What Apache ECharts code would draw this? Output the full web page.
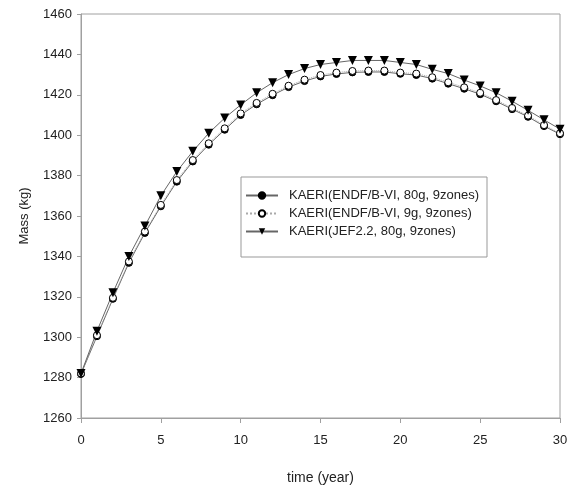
<!DOCTYPE html>
<html>
<head>
<meta charset="utf-8">
<script src="https://cdn.jsdelivr.net/npm/echarts@6/dist/echarts.min.js"></script>
<style>
  html, body { margin: 0; padding: 0; background: #fff; }
  #chart { width: 580px; height: 491px; }
</style>
</head>
<body>
<div id="chart"></div>
<script>
// Fuel mass over time for three library / group-structure cases
const years = [0, 1, 2, 3, 4, 5, 6, 7, 8, 9, 10, 11, 12, 13, 14, 15, 16, 17, 18, 19, 20,
               21, 22, 23, 24, 25, 26, 27, 28, 29, 30];

const endf80g = [1281.8, 1300.5, 1319.0, 1336.8, 1351.6, 1364.8, 1377.0, 1387.0, 1395.3, 1402.7,
                 1410.0, 1415.3, 1419.8, 1423.8, 1426.8, 1429.1, 1430.3, 1431.1, 1431.3, 1431.3,
                 1430.4, 1429.8, 1428.0, 1425.5, 1423.0, 1420.3, 1416.8, 1412.9, 1409.1, 1404.5, 1400.5];

const endf9g = [1282.0, 1301.0, 1319.5, 1337.5, 1352.3, 1365.5, 1377.8, 1387.7, 1396.0, 1403.4,
                1410.8, 1416.0, 1420.5, 1424.5, 1427.5, 1429.8, 1431.0, 1431.8, 1432.0, 1432.0,
                1431.0, 1430.5, 1428.7, 1426.2, 1423.7, 1421.0, 1417.4, 1413.5, 1409.7, 1405.0, 1401.0];

const jef80g = [1282.0, 1303.0, 1322.0, 1340.0, 1355.0, 1370.0, 1382.0, 1392.0, 1401.0, 1408.5,
                1415.0, 1421.0, 1426.0, 1430.0, 1433.0, 1435.0, 1436.0, 1437.0, 1437.0, 1437.0,
                1436.0, 1435.0, 1432.6, 1430.5, 1427.3, 1424.4, 1421.0, 1416.8, 1412.3, 1407.6, 1403.0];

const seriesNames = [
  'KAERI(ENDF/B-VI, 80g, 9zones)',
  'KAERI(ENDF/B-VI, 9g, 9zones)',
  'KAERI(JEF2.2, 80g, 9zones)'
];

const xTicks = { min: 0, max: 30, interval: 5 };
const yTicks = { min: 1260, max: 1460, interval: 20 };

const pairs = (ys) => years.map((x, i) => [x, ys[i]]);

const font = 'Liberation Sans, Arial, sans-serif';
const axisGrey = '#a0a0a0';
const textCol = '#222';

const chart = echarts.init(document.getElementById('chart'), null, { renderer: 'canvas' });

chart.setOption({
  animation: false,
  backgroundColor: '#fff',
  textStyle: { fontFamily: font },
  grid: {
    left: 81, right: 20, top: 14, bottom: 73,
    show: true, borderColor: axisGrey, borderWidth: 1, backgroundColor: 'transparent'
  },
  legend: {
    orient: 'vertical',
    left: 241, top: 177,
    borderColor: '#999', borderWidth: 1,
    padding: [12, 8, 19, 4],
    itemGap: 5,
    itemWidth: 32, itemHeight: 8,
    textStyle: { fontFamily: font, fontSize: 13, color: textCol, padding: [0, 0, 0, 6] },
    data: seriesNames
  },
  xAxis: {
    type: 'value',
    min: xTicks.min, max: xTicks.max, interval: xTicks.interval,
    name: 'time (year)',
    nameLocation: 'middle', nameGap: 53,
    nameTextStyle: { fontFamily: font, fontSize: 14, color: textCol },
    axisLine: { lineStyle: { color: axisGrey, width: 1 } },
    axisTick: { show: true, length: 5, lineStyle: { color: axisGrey } },
    axisLabel: { fontFamily: font, fontSize: 13, color: textCol, margin: 16 },
    splitLine: { show: false }
  },
  yAxis: {
    type: 'value',
    min: yTicks.min, max: yTicks.max, interval: yTicks.interval,
    name: 'Mass (kg)',
    nameLocation: 'middle', nameGap: 50, nameRotate: 90,
    nameTextStyle: { fontFamily: 'Liberation Sans Narrow, ' + font, fontSize: 13, color: textCol },
    axisLine: { show: true, lineStyle: { color: axisGrey, width: 1 } },
    axisTick: { show: true, length: 4, lineStyle: { color: axisGrey } },
    axisLabel: { fontFamily: font, fontSize: 13, color: textCol, margin: 9, formatter: (v) => String(v) },
    splitLine: { show: false }
  },
  series: [
    {
      name: seriesNames[0],
      type: 'line',
      data: pairs(endf80g),
      symbol: 'circle', symbolSize: 7,
      itemStyle: { color: '#000', borderColor: '#000', borderWidth: 1 },
      lineStyle: { color: '#666', width: 1, type: 'solid' }
    },
    {
      name: seriesNames[1],
      type: 'line',
      data: pairs(endf9g),
      symbol: 'circle', symbolSize: 7,
      itemStyle: { color: '#fff', borderColor: '#000', borderWidth: 1 },
      lineStyle: { color: '#aaa', width: 1, type: 'dotted' }
    },
    {
      name: seriesNames[2],
      type: 'line',
      data: pairs(jef80g),
      symbol: 'triangle', symbolSize: 9, symbolRotate: 180,
      itemStyle: { color: '#000', borderColor: '#000', borderWidth: 0 },
      lineStyle: { color: '#666', width: 1, type: 'solid' }
    }
  ]
});
</script>
</body>
</html>
